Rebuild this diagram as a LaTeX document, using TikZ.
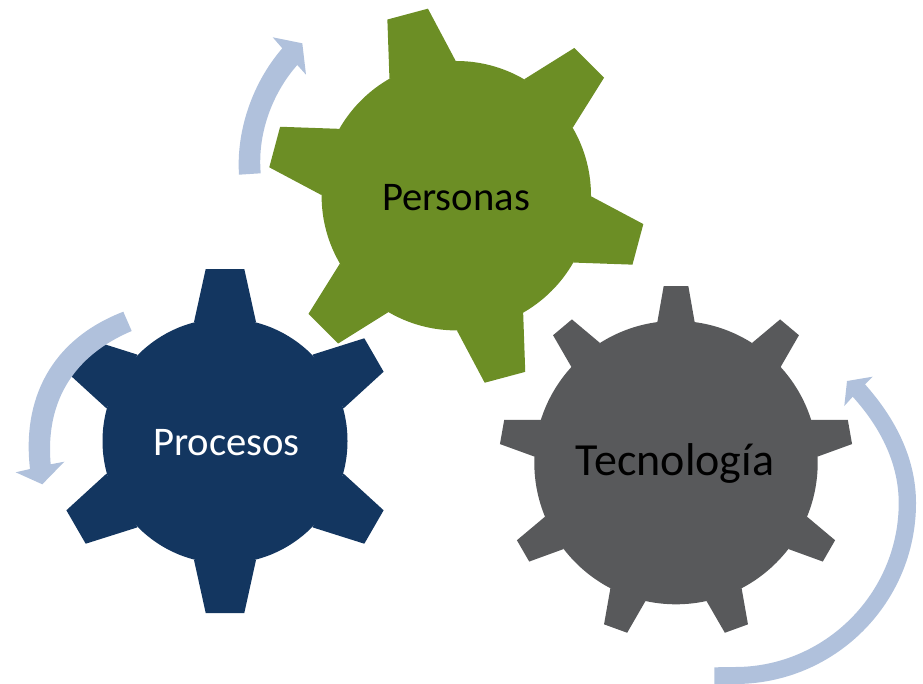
\documentclass[tikz,border=0pt]{standalone}
\usepackage{fontspec}
\setmainfont{Carlito}
\definecolor{procesosblue}{HTML}{133660}
\definecolor{personasgreen}{HTML}{6C8E25}
\definecolor{tecnogray}{HTML}{58595B}
\definecolor{arrowblue}{HTML}{B0C1DC}
\begin{document}
\begin{tikzpicture}[
        x=0.75pt, y=-0.75pt,
        label/.style={inner sep=0pt, anchor=base, font=\fontsize{30.5}{36}\selectfont},
        turn/.style={fill=arrowblue}
    ]
    \useasboundingbox (0,0) rectangle (923,684);
    % Gears
    \fill[procesosblue] (225,441) circle (122.5);
    \foreach \a in {0,60,...,300}
        \fill[procesosblue, shift={(225,441)}, rotate=\a] (-31,-119) -- (-19.3,-172) -- (19.3,-172) -- (31,-119) -- cycle;
    \fill[personasgreen] (456.3,195.7) circle (134.7);
    \foreach \a in {15,75,...,315}
        \fill[personasgreen, shift={(456.3,195.7)}, rotate=\a] (-34.3,-130.3) -- (-21,-188) -- (21,-188) -- (34.3,-130.3) -- cycle;
    \fill[tecnogray] (676,462.6) circle (141.7);
    \foreach \a in {0,40,...,320}
        \fill[tecnogray, shift={(676,462.6)}, rotate=\a] (-18.7,-140.3) -- (-12.3,-176.6) -- (12.3,-176.6) -- (18.7,-140.3) -- cycle;
    % Arrows
    \fill[turn] (239,174.7) .. controls (236,130) and (253,82) .. (282.3,48.3)
        -- (272.7,37.3) -- (302.3,43.3) -- (306,74.7) -- (297.3,65)
        .. controls (275,90) and (257,130) .. (260.7,173.3) -- cycle;
    \fill[turn] (123.3,311.7) .. controls (50,340) and (22,400) .. (30,469)
        -- (15.7,472.3) -- (42.3,484.3) -- (64.3,461.7) -- (50.7,464.3)
        .. controls (45,400) and (75,355) .. (131.7,331) -- cycle;
    \fill[turn] (714.3,684) -- (735,684) .. controls (835,684) and (916,603) .. (916,503)
        .. controls (916,458) and (895,418) .. (865,384.3)
        -- (872.7,376.7) -- (847,381) -- (844.3,406) -- (852.7,396.7)
        .. controls (881,428) and (898.7,464) .. (898.7,503)
        .. controls (898.7,593) and (825,667) .. (735,667) -- (714.3,667.3) -- cycle;
    % Nodes
    \node[label, text=white] (procesos) at (226.5,455) {Procesos};
    \node[label, text=black] (personas) at (456,210) {Personas};
    \node[label, text=black, font=\fontsize{34.5}{41}\selectfont] (tecnologia) at (675,475) {Tecnología};
\end{tikzpicture}
\end{document}
